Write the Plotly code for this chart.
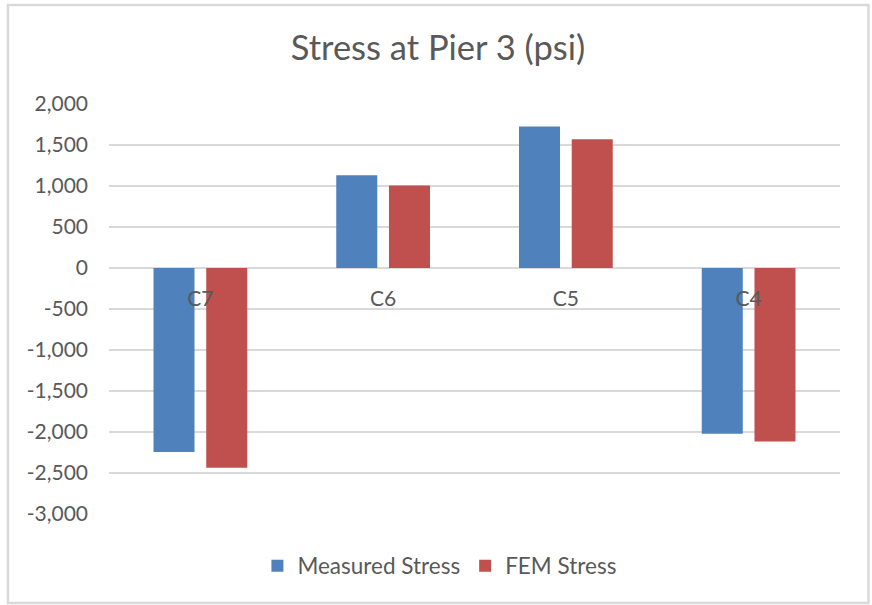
import plotly.graph_objects as go

# Stress at pier 3 for each column line
categories = ["C7", "C6", "C5", "C4"]
measured_stress = [-2245, 1130, 1725, -2020]
fem_stress = [-2435, 1005, 1570, -2115]

y_tick_values = [2000, 1500, 1000, 500, 0, -500, -1000, -1500, -2000, -2500, -3000]
y_tick_labels = ["2,000", "1,500", "1,000", "500", "0", "-500", "-1,000",
                 "-1,500", "-2,000", "-2,500", "-3,000"]

BLUE = "#4F81BD"
RED = "#C0504D"
TEXT = "#595959"
GRID = "#D9D9D9"
FONT = "Lato, 'Open Sans', sans-serif"

fig = go.Figure()
fig.add_trace(go.Bar(name="Measured Stress", x=categories, y=measured_stress,
                     marker=dict(color=BLUE, line=dict(width=0))))
fig.add_trace(go.Bar(name="FEM Stress", x=categories, y=fem_stress,
                     marker=dict(color=RED, line=dict(width=0))))

fig.update_layout(
    width=872, height=605, autosize=False,
    margin=dict(l=109, r=32, t=104, b=91),
    paper_bgcolor="white", plot_bgcolor="white",
    barmode="group", bargap=0.423, bargroupgap=0.222,
    font=dict(family=FONT, color=TEXT, size=21),
    title=dict(text="Stress at Pier 3 (psi)", x=0.5023, xref="container",
               xanchor="center", y=1 - 48 / 605, yref="container",
               yanchor="middle", font=dict(family=FONT, size=34.5, color=TEXT)),
    showlegend=True,
    legend=dict(orientation="h", x=0.452, xanchor="center", y=-0.127,
                yanchor="middle", font=dict(family=FONT, size=22.5, color=TEXT),
                bgcolor="rgba(0,0,0,0)", traceorder="normal"),
    xaxis=dict(anchor="free", position=0.6, showgrid=False, zeroline=False,
               showline=False, ticks="", ticklabelstandoff=16,
               tickfont=dict(family=FONT, size=21, color=TEXT)),
    yaxis=dict(range=[-3000, 2000], tickvals=y_tick_values, ticktext=y_tick_labels,
               showgrid=True, gridcolor=GRID, gridwidth=1.5,
               zeroline=True, zerolinecolor=GRID, zerolinewidth=1.5,
               showline=False, ticks="", ticklabelstandoff=20,
               tickfont=dict(family=FONT, size=21, color=TEXT)),
    shapes=[dict(type="rect", xref="paper", yref="paper",
                 x0=-0.1382, x1=1.039, y0=-0.2171, y1=1.2415,
                 line=dict(color=GRID, width=2.5), fillcolor="rgba(0,0,0,0)",
                 layer="below")],
)

fig.write_html("out.html")
